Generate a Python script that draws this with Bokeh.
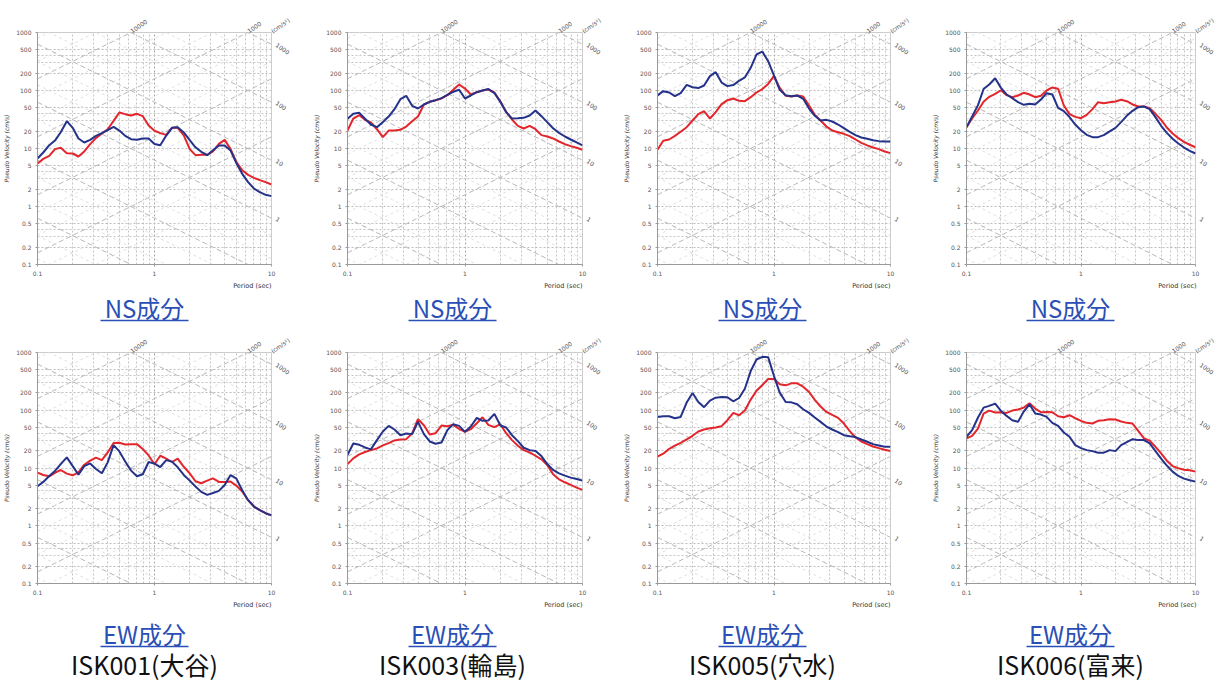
import math
from bokeh.plotting import figure
from bokeh.layouts import row, column
from bokeh.models import FixedTicker, CustomJSTickFormatter, Range1d, LogAxis
from bokeh.core.properties import value
from bokeh.embed import file_html
from bokeh.resources import INLINE

# ---------------- data ----------------
period = [0.1, 0.112, 0.126, 0.141, 0.158, 0.178, 0.2, 0.224, 0.251, 0.282, 0.316,
          0.355, 0.398, 0.447, 0.501, 0.562, 0.631, 0.708, 0.794, 0.891, 1.0, 1.12,
          1.26, 1.41, 1.58, 1.78, 2.0, 2.24, 2.51, 2.82, 3.16, 3.55, 3.98, 4.47, 5.01,
          5.62, 6.31, 7.08, 7.94, 8.91, 10.0]

stations = ["ISK001(大谷)", "ISK003(輪島)", "ISK005(穴水)", "ISK006(富来)"]
components = ["NS成分", "EW成分"]

isk001_ns_blue = [6.73, 8.53, 11.4, 13.7, 19.1, 29.6, 22.7, 14.9, 12.7, 14.1, 16.5, 18.4, 20.7, 23.6, 20.4, 16.5, 14.5, 14.1, 14.9, 14.9, 12.0, 11.4, 16.7, 22.7, 23.3, 18.9, 13.9, 10.5, 8.77, 7.67, 9.36, 11.3, 11.3, 9.24, 5.58, 3.66, 2.63, 2.04, 1.77, 1.59, 1.51]
isk001_ns_red = [5.51, 6.63, 7.47, 9.75, 10.3, 8.31, 8.20, 7.28, 8.88, 11.9, 15.1, 18.1, 21.5, 30.0, 41.8, 39.1, 37.0, 39.6, 36.1, 24.9, 20.2, 18.4, 17.2, 22.7, 22.7, 16.8, 9.75, 7.68, 7.78, 7.78, 8.88, 12.0, 14.1, 9.75, 5.81, 4.23, 3.51, 3.12, 2.85, 2.63, 2.40]
isk003_ns_blue = [32.5, 39.6, 41.2, 32.5, 25.9, 23.3, 28.5, 35.6, 47.7, 70.9, 80.9, 54.4, 48.9, 57.4, 63.8, 68.1, 73.8, 84.2, 94.9, 103, 72.8, 82.0, 93.6, 100, 106, 90.0, 63.8, 42.3, 32.9, 33.3, 33.8, 37.0, 45.2, 36.1, 28.5, 22.4, 18.6, 16.1, 14.3, 12.7, 11.3]
isk003_ns_red = [20.4, 32.9, 37.6, 31.2, 28.1, 21.5, 15.7, 20.4, 20.4, 21.0, 23.9, 29.6, 35.6, 57.4, 63.8, 68.1, 72.8, 83.1, 103, 127, 108, 85.3, 93.6, 100, 104, 92.4, 64.6, 42.9, 31.6, 24.6, 22.1, 24.6, 21.5, 17.0, 16.1, 14.9, 13.2, 11.9, 11.0, 10.3, 9.49]
isk005_ns_blue = [82.0, 97.4, 92.4, 79.8, 90.0, 125, 114, 110, 122, 177, 207, 137, 119, 124, 147, 168, 246, 418, 470, 320, 181, 103, 83.1, 79.8, 82.0, 71.8, 48.9, 36.6, 30.4, 31.2, 29.2, 25.9, 22.4, 19.4, 17.0, 15.5, 14.7, 13.9, 13.4, 13.2, 13.2]
isk005_ns_red = [9.49, 13.6, 14.3, 16.5, 19.4, 23.3, 30.4, 39.1, 44.0, 32.9, 42.3, 58.1, 68.1, 72.8, 66.4, 65.5, 76.7, 92.4, 106, 130, 179, 111, 80.9, 78.8, 82.0, 78.8, 55.1, 38.0, 30.4, 23.9, 20.4, 19.1, 17.9, 16.3, 14.3, 12.5, 11.3, 10.4, 9.75, 8.88, 8.31]
isk006_ns_blue = [23.3, 35.6, 55.9, 106, 127, 163, 111, 85.3, 73.8, 62.9, 56.6, 58.9, 57.4, 69.9, 90.0, 85.3, 50.3, 44.0, 34.7, 25.9, 20.7, 17.2, 15.7, 15.7, 17.0, 19.7, 22.7, 28.5, 36.6, 44.6, 51.6, 53.0, 47.7, 34.7, 24.6, 18.6, 14.7, 12.2, 10.4, 9.12, 8.20]
isk006_ns_red = [23.3, 32.9, 45.2, 63.8, 77.8, 87.6, 101, 83.1, 76.7, 82.0, 91.2, 85.3, 76.7, 80.9, 100, 113, 107, 55.1, 39.1, 35.1, 33.3, 38.0, 47.7, 62.9, 60.5, 62.9, 64.6, 69.1, 65.5, 57.4, 53.0, 53.0, 49.6, 39.6, 31.2, 23.0, 18.1, 15.1, 13.0, 11.6, 10.5]

isk001_ew_blue = [4.83, 5.74, 7.28, 8.88, 11.7, 15.3, 10.8, 7.68, 10.8, 12.0, 9.61, 8.09, 12.5, 24.9, 19.4, 13.0, 9.00, 7.18, 7.78, 12.7, 11.9, 10.4, 13.7, 12.9, 10.3, 7.57, 6.05, 4.77, 3.86, 3.42, 3.70, 4.01, 5.09, 7.57, 6.55, 4.12, 2.77, 2.15, 1.86, 1.65, 1.51]
isk001_ew_red = [8.31, 7.57, 7.18, 8.20, 9.24, 7.98, 7.47, 8.42, 11.4, 13.4, 15.1, 13.7, 18.6, 27.0, 27.3, 25.6, 25.9, 25.9, 21.3, 16.5, 11.6, 16.3, 14.5, 12.7, 14.5, 10.5, 8.09, 5.89, 5.44, 6.05, 6.63, 5.74, 5.74, 5.81, 4.96, 3.91, 2.77, 2.15, 1.86, 1.65, 1.51]
isk003_ew_blue = [16.8, 26.6, 25.2, 22.7, 21.0, 30.4, 42.9, 53.7, 46.4, 37.0, 39.6, 38.6, 62.9, 38.6, 28.8, 26.3, 27.7, 45.2, 57.4, 53.7, 42.3, 52.2, 73.8, 65.5, 66.4, 86.4, 54.4, 50.3, 37.0, 29.2, 22.4, 20.4, 19.7, 16.1, 11.7, 9.24, 8.09, 7.38, 6.81, 6.46, 6.05]
isk003_ew_red = [11.7, 14.7, 17.2, 18.9, 20.4, 21.8, 24.6, 27.0, 30.0, 31.2, 31.6, 39.6, 69.9, 55.1, 38.0, 40.1, 54.4, 53.0, 55.9, 47.7, 42.3, 47.0, 59.7, 75.7, 55.9, 50.9, 57.4, 40.1, 30.4, 24.3, 20.4, 18.6, 16.3, 14.1, 11.3, 7.78, 6.38, 5.66, 5.09, 4.58, 4.18]
isk005_ew_blue = [76.7, 78.8, 78.8, 72.8, 76.7, 136, 199, 139, 113, 147, 165, 170, 168, 143, 163, 236, 477, 757, 842, 831, 391, 202, 139, 137, 127, 104, 90.0, 74.8, 62.9, 52.2, 46.4, 41.8, 37.0, 35.6, 34.3, 31.2, 28.5, 25.9, 24.6, 23.3, 23.3]
isk005_ew_red = [15.7, 17.7, 21.5, 24.3, 27.3, 31.2, 36.1, 42.9, 46.4, 48.9, 50.3, 53.0, 67.2, 90.0, 82.0, 98.7, 153, 218, 273, 347, 347, 281, 270, 292, 292, 256, 207, 151, 116, 93.6, 83.1, 73.8, 58.9, 43.4, 33.8, 28.8, 25.9, 23.6, 22.1, 20.7, 19.7]
isk006_ew_blue = [34.7, 45.2, 74.8, 111, 119, 130, 97.4, 79.9, 67.2, 62.9, 94.9, 127, 87.6, 84.2, 76.7, 60.5, 53.7, 41.2, 34.7, 24.9, 22.1, 20.4, 19.6, 18.4, 18.4, 20.4, 19.6, 24.9, 28.1, 31.6, 30.4, 30.4, 26.6, 19.6, 14.5, 11.0, 8.65, 7.28, 6.55, 6.13, 5.81]
isk006_ew_red = [32.5, 36.1, 48.3, 87.6, 98.7, 91.2, 92.3, 89.9, 98.7, 103, 111, 132, 107, 92.3, 93.6, 92.3, 78.8, 75.7, 82.0, 72.8, 65.5, 60.5, 58.9, 65.5, 67.2, 69.9, 69.0, 63.8, 60.5, 58.9, 44.0, 32.5, 29.6, 23.3, 17.9, 13.4, 10.8, 9.87, 9.36, 9.12, 8.65]

x_ticks = [0.1, 1, 10]
x_minor = [0.2, 0.3, 0.4, 0.5, 0.6, 0.7, 0.8, 0.9, 2, 3, 4, 5, 6, 7, 8, 9]
y_ticks = [0.1, 0.2, 0.5, 1, 2, 5, 10, 20, 50, 100, 200, 500, 1000]
y_minor = [0.3, 0.4, 3, 4, 30, 40, 300, 400]
accel_major = [10, 100, 1000, 10000, 100000]
accel_minor = [2, 5, 20, 50, 200, 500, 2000, 5000, 20000, 50000]
disp_major = [0.001, 0.01, 0.1, 1, 10, 100, 1000]
disp_minor = [0.002, 0.005, 0.02, 0.05, 0.2, 0.5, 2, 5, 20, 50, 200, 500]
accel_labels = [10000, 1000]
disp_labels = [1000, 100, 10, 1]

ns_series = [(isk001_ns_red, isk001_ns_blue), (isk003_ns_red, isk003_ns_blue),
             (isk005_ns_red, isk005_ns_blue), (isk006_ns_red, isk006_ns_blue)]
ew_series = [(isk001_ew_red, isk001_ew_blue), (isk003_ew_red, isk003_ew_blue),
             (isk005_ew_red, isk005_ew_blue), (isk006_ew_red, isk006_ew_blue)]

# ---------------- style / geometry ----------------
RED = "#e3262b"
BLUE = "#24328a"
CAP_BLUE = "#2a4fb6"
GRID = "#a8a8a8"
TXT = "#555555"
AX_FONT = "DejaVu Sans"
CJK = "Noto Sans CJK JP"
# (figure width, left border, right border, caption centre x)
cols = [(308, 37, 37, 144), (311, 39, 37, 144), (309, 38, 38, 143), (290, 38, 22, 142)]
TWO_PI = 2 * math.pi
fmt = CustomJSTickFormatter(code="return String(tick);")
top_fmt = CustomJSTickFormatter(
    code="if (tick > 9.9) { return '(cm/s\u00b2)'; } return String(Math.round(2*Math.PI*1000/tick));")
right_fmt = CustomJSTickFormatter(code="return String(Math.round(tick*10/(2*Math.PI)));")


def style_axis(ax):
    ax.major_label_text_font_size = "6px"
    ax.major_label_text_font = AX_FONT
    ax.major_label_text_color = TXT
    ax.minor_tick_line_color = None
    ax.major_label_standoff = 2


def panel(red, blue, fw, bl, br, fh, bt, bb):
    p = figure(width=fw, height=fh, x_axis_type="log", y_axis_type="log",
               x_range=Range1d(0.1, 10), y_range=Range1d(0.1, 1000),
               output_backend="svg", toolbar_location=None,
               min_border_left=bl, min_border_right=br, min_border_top=bt, min_border_bottom=bb,
               background_fill_color="white", border_fill_color="white",
               outline_line_color="#cccccc")
    p.xaxis.ticker = FixedTicker(ticks=x_ticks, minor_ticks=x_minor)
    p.yaxis.ticker = FixedTicker(ticks=y_ticks, minor_ticks=y_minor)
    for ax in (p.xaxis, p.yaxis):
        style_axis(ax)
        ax.formatter = fmt
        ax.axis_line_color = "#999999"
        ax.major_tick_out = 2
        ax.major_tick_in = 0
        ax.major_tick_line_color = "#999999"
    p.yaxis.axis_label = "Pseudo Velocity (cm/s)"
    p.yaxis.axis_label_text_font_size = "6px"
    p.yaxis.axis_label_text_font = AX_FONT
    p.yaxis.axis_label_text_font_style = "italic"
    p.yaxis.axis_label_text_color = "#333333"
    p.yaxis.axis_label_standoff = 3

    # acceleration scale along the top, displacement scale along the right
    top = LogAxis(ticker=FixedTicker(ticks=[TWO_PI * 1000 / a for a in accel_labels] + [10]),
                  formatter=top_fmt, major_label_orientation=0.6,
                  axis_line_color=None, major_tick_line_color=None,
                  major_tick_out=0, major_tick_in=0)
    style_axis(top)
    top.major_label_standoff = 1
    p.add_layout(top, "above")
    right = LogAxis(ticker=FixedTicker(ticks=[TWO_PI * d / 10 for d in disp_labels]),
                    formatter=right_fmt, major_label_orientation=-0.6,
                    axis_line_color=None, major_tick_line_color=None,
                    major_tick_out=0, major_tick_in=0)
    style_axis(right)
    right.major_label_standoff = 5
    p.add_layout(right, "right")

    for g in (p.xgrid, p.ygrid):
        g.grid_line_color = GRID
        g.grid_line_dash = "2 2"
        g.grid_line_width = 1
        g.minor_grid_line_color = "#c4c4c4"
        g.minor_grid_line_dash = "2 2"
    p.ygrid.grid_line_color = "#bdbdbd"

    tx = [0.1, 10]
    # diagonal grid: constant acceleration (rising) and displacement (falling)
    p.multi_line([tx] * len(accel_major), [[a * t / TWO_PI for t in tx] for a in accel_major],
                 line_color="#b8b8b8", line_dash="5 3", line_width=1)
    p.multi_line([tx] * len(accel_minor), [[a * t / TWO_PI for t in tx] for a in accel_minor],
                 line_color="#e0e0e0", line_dash="3 3", line_width=1)
    p.multi_line([tx] * len(disp_major), [[TWO_PI * d / t for t in tx] for d in disp_major],
                 line_color="#b8b8b8", line_dash="5 3", line_width=1)
    p.multi_line([tx] * len(disp_minor), [[TWO_PI * d / t for t in tx] for d in disp_minor],
                 line_color="#e0e0e0", line_dash="3 3", line_width=1)

    p.line(period, red, line_color=RED, line_width=2)
    p.line(period, blue, line_color=BLUE, line_width=2)
    return p


def caption(fw, fh, cx, axis_right, items):
    c = figure(width=fw, height=fh, x_range=Range1d(0, fw), y_range=Range1d(fh, 0),
               output_backend="svg", toolbar_location=None, min_border=0,
               x_axis_location=None, y_axis_location=None, outline_line_color=None,
               background_fill_color="white", border_fill_color="white")
    c.grid.visible = False
    c.text(x=[axis_right], y=[3], text=["Period (sec)"], text_align="right", text_baseline="top",
           text_font=value(AX_FONT), text_font_size="6.5px", text_color="#333333")
    for text, cy, color, size, uline in items:
        c.text(x=[cx], y=[cy], text=[text], text_align="center", text_baseline="middle",
               text_font=value(CJK), text_font_size=size, text_color=color)
        if uline:
            c.segment(x0=[cx - uline / 2], y0=[cy + uline_gap], x1=[cx + uline / 2],
                      y1=[cy + uline_gap], line_color=color, line_width=1.6)
    return c


uline_gap = 13
row1 = [panel(r, b, fw, bl, br, 278, 32, 14) for (r, b), (fw, bl, br, cx) in zip(ns_series, cols)]
cap1 = [caption(fw, 47, cx, fw - br, [(components[0], 29, CAP_BLUE, "24px", 88)])
        for (fw, bl, br, cx) in cols]
row2 = [panel(r, b, fw, bl, br, 272, 27, 12) for (r, b), (fw, bl, br, cx) in zip(ew_series, cols)]
cap2 = [caption(fw, 86, cx, fw - br, [(components[1], 36, CAP_BLUE, "24px", 88),
                                      (st, 66, "#111111", "25px", 0)])
        for (fw, bl, br, cx), st in zip(cols, stations)]

layout = column(row(*row1), row(*cap1), row(*row2), row(*cap2))
open("out.html", "w").write(file_html(layout, INLINE))
